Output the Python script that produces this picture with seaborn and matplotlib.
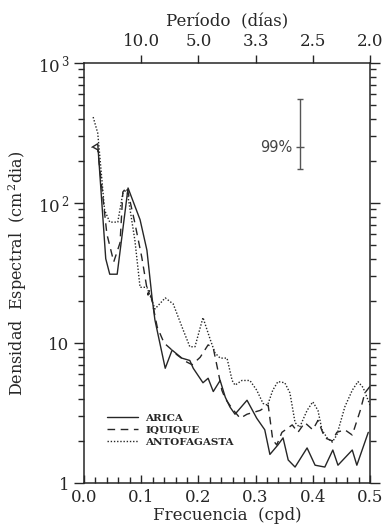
import numpy as np
import pandas as pd
import matplotlib
matplotlib.use("Agg")
import matplotlib.pyplot as plt
import matplotlib.ticker as mticker
import seaborn as sns

# ---------------- data ----------------
arica_f = [0.014, 0.024, 0.038, 0.045, 0.058, 0.077, 0.098, 0.110, 0.119, 0.124,
           0.142, 0.154, 0.171, 0.185, 0.191, 0.208, 0.217, 0.226, 0.238, 0.247,
           0.255, 0.264, 0.285, 0.302, 0.316, 0.325, 0.339, 0.348, 0.357, 0.369,
           0.390, 0.404, 0.421, 0.435, 0.444, 0.469, 0.477, 0.497]
arica_v = [250, 265, 40, 31, 31, 128, 76, 46, 21, 14.6,
           6.6, 8.9, 7.8, 7.5, 6.6, 5.2, 5.6, 4.5, 5.4, 4.1,
           3.5, 3.1, 3.9, 2.9, 2.4, 1.6, 1.87, 2.1, 1.46, 1.3,
           1.78, 1.34, 1.3, 1.72, 1.34, 1.72, 1.34, 2.3]

iquique_f = [0.016, 0.024, 0.040, 0.052, 0.063, 0.068, 0.075, 0.088, 0.101, 0.112,
             0.115, 0.128, 0.140, 0.150, 0.163, 0.180, 0.189, 0.203, 0.217, 0.226,
             0.234, 0.241, 0.247, 0.259, 0.273, 0.285, 0.308, 0.322, 0.330, 0.337,
             0.346, 0.364, 0.374, 0.386, 0.400, 0.409, 0.421, 0.434, 0.442, 0.456,
             0.469, 0.483, 0.491, 0.500]
iquique_v = [250, 240, 60, 38, 52, 120, 130, 75, 41, 22,
             24, 13, 10, 9.2, 8.2, 7.3, 7.0, 7.9, 9.7, 9.2,
             6.4, 4.6, 4.0, 3.4, 2.9, 3.1, 3.3, 3.6, 2.03, 1.87,
             2.3, 2.6, 2.3, 2.7, 2.4, 2.8, 2.1, 2.0, 2.3, 2.4,
             2.2, 3.3, 4.4, 4.9]

antof_f = [0.016, 0.024, 0.036, 0.045, 0.059, 0.068, 0.075, 0.089, 0.098, 0.110,
           0.120, 0.124, 0.142, 0.156, 0.173, 0.185, 0.194, 0.208, 0.221, 0.229,
           0.238, 0.250, 0.259, 0.264, 0.276, 0.290, 0.302, 0.313, 0.321, 0.330,
           0.339, 0.351, 0.360, 0.369, 0.377, 0.390, 0.400, 0.409, 0.416, 0.425,
           0.434, 0.442, 0.456, 0.469, 0.479, 0.488, 0.500]
antof_v = [411, 316, 89, 73, 73, 118, 125, 54, 25, 25,
           19.5, 17.5, 21, 19, 12.5, 9.4, 9.4, 15.2, 10.5, 8.5,
           7.8, 7.8, 5.4, 5.0, 5.4, 5.4, 4.6, 3.7, 3.6, 4.6,
           5.3, 5.2, 4.4, 2.7, 2.5, 3.3, 3.8, 3.3, 2.4, 2.1,
           1.96, 2.2, 3.5, 4.6, 5.3, 4.8, 3.6]

stations = ["ARICA", "IQUIQUE", "ANTOFAGASTA"]

period_ticks_freq = [0.1, 0.2, 0.3, 0.4, 0.5]
period_tick_labels = ["10.0", "5.0", "3.3", "2.5", "2.0"]

ci_freq = 0.378
ci_center = 251
ci_low = 175
ci_high = 553
ci_label = "99%"

# ---------------- figure ----------------
sns.set_style("ticks")
plt.rcParams["font.family"] = ["DejaVu Serif"]
plt.rcParams["mathtext.fontset"] = "dejavuserif"

ink = "#262626"
fig = plt.figure(figsize=(3.86, 5.31), dpi=100)
ax = fig.add_axes([84 / 386, 1 - 483 / 531, 286 / 386, 420 / 531])

df = pd.concat([
    pd.DataFrame({"freq": arica_f, "dens": arica_v, "station": stations[0]}),
    pd.DataFrame({"freq": iquique_f, "dens": iquique_v, "station": stations[1]}),
    pd.DataFrame({"freq": antof_f, "dens": antof_v, "station": stations[2]}),
])

dash_map = {"ARICA": "", "IQUIQUE": (5.5, 4), "ANTOFAGASTA": (1, 1.3)}
sns.lineplot(data=df, x="freq", y="dens", hue="station", style="station",
             palette=[ink] * 3, dashes=dash_map, estimator=None, sort=False,
             linewidth=1.0, ax=ax)

ax.set_yscale("log")
ax.set_xlim(0, 0.5)
ax.set_ylim(1, 1000)

# y ticks
ax.yaxis.set_major_locator(mticker.FixedLocator([1, 10, 100, 1000]))
ax.yaxis.set_major_formatter(mticker.FixedFormatter(
    ["1", "10", r"$\mathregular{10^{\,2}}$", r"$\mathregular{10^{\,3}}$"]))
ax.yaxis.set_minor_locator(mticker.LogLocator(base=10, subs=np.arange(2, 10)))
ax.yaxis.set_minor_formatter(mticker.NullFormatter())
ax.tick_params(axis="y", which="both", left=True, right=True, direction="out",
               colors=ink, labelsize=12, width=1.0)
ax.tick_params(axis="y", which="major", length=7)
ax.tick_params(axis="y", which="minor", length=4)

# x ticks
ax.xaxis.set_major_locator(mticker.MultipleLocator(0.1))
ax.xaxis.set_minor_locator(mticker.MultipleLocator(0.02))
ax.xaxis.set_major_formatter(mticker.FormatStrFormatter("%.1f"))
ax.tick_params(axis="x", which="both", bottom=True, top=False, direction="in",
               colors=ink, labelsize=12, width=1.0)
ax.tick_params(axis="x", which="major", length=6, pad=4)
ax.tick_params(axis="x", which="minor", length=4)

for s in ax.spines.values():
    s.set_color(ink)
    s.set_linewidth(1.1)

ax.set_xlabel("Frecuencia  (cpd)", fontsize=12, color=ink, labelpad=1)
ax.set_ylabel(r"Densidad  Espectral  (cm$^{\,2}$dia)", fontsize=11.5, color=ink,
              labelpad=6)

# top axis: period
top = ax.secondary_xaxis("top")
top.set_xticks(period_ticks_freq)
top.set_xticklabels(period_tick_labels)
top.tick_params(direction="out", length=6, width=1.0, colors=ink, labelsize=12, pad=3)
top.xaxis.set_minor_locator(mticker.NullLocator())
top.set_xlabel("Período  (días)", fontsize=12, color=ink, labelpad=5)
top.spines["top"].set_visible(False)

# 99% confidence bar
ax.errorbar([ci_freq], [ci_center],
            yerr=[[ci_center - ci_low], [ci_high - ci_center]],
            fmt="_", color="#555555", ecolor="#555555", elinewidth=1.0,
            capsize=2, capthick=1.0, markersize=6, markeredgewidth=1.0)
ax.text(ci_freq - 0.013, ci_center, ci_label, ha="right", va="center",
        fontsize=10.5, family="DejaVu Sans", color="#444444")

# legend
leg = ax.legend(loc="upper left", bbox_to_anchor=(0.08, 0.165), frameon=False,
                handlelength=3.0, handletextpad=0.7, labelspacing=0.25,
                borderpad=0, borderaxespad=0,
                prop={"family": "DejaVu Serif", "weight": "bold", "size": 7.5})
for t in leg.get_texts():
    t.set_color(ink)

fig.savefig("out.png", dpi=100, facecolor="white")
